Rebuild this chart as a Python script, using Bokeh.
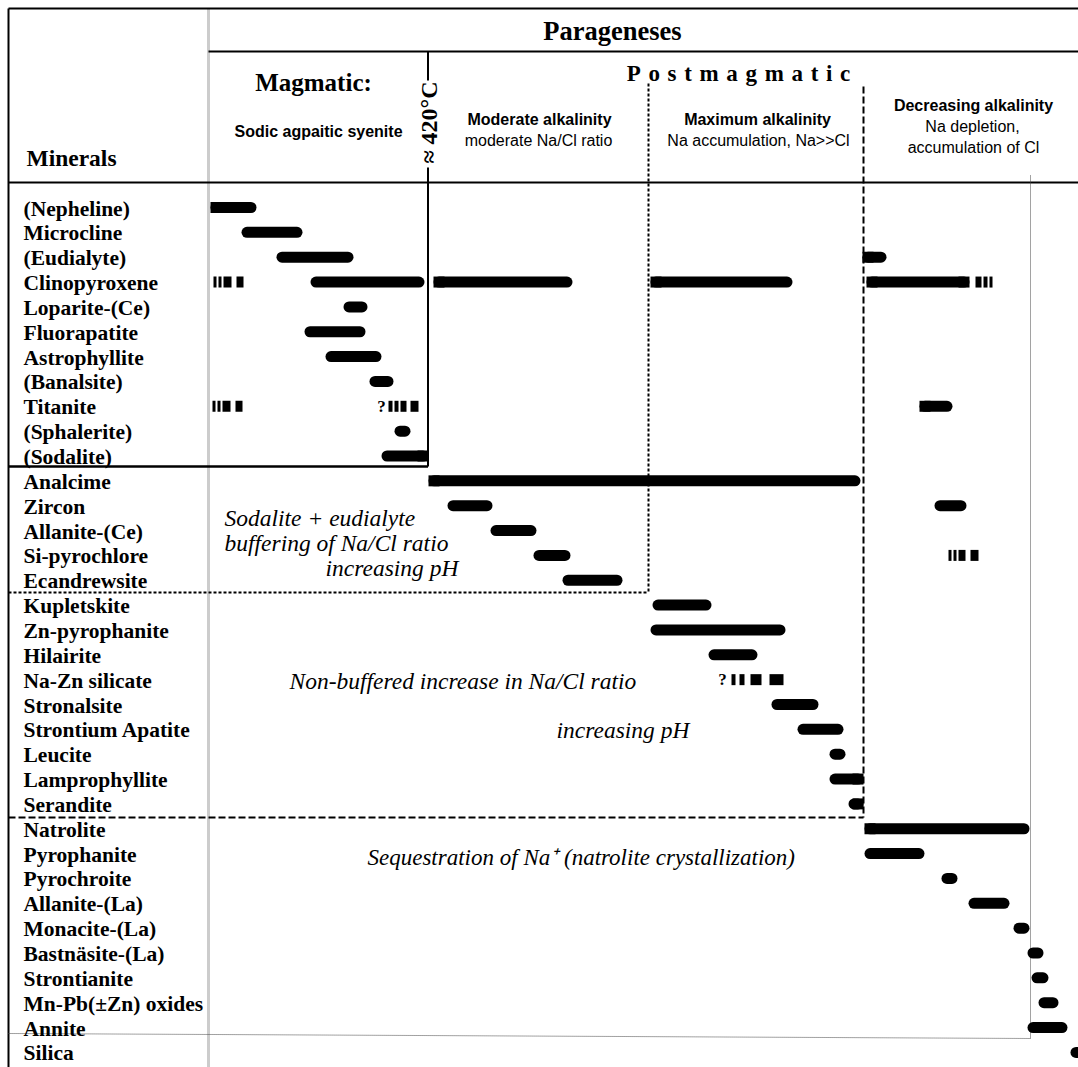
import math
from bokeh.plotting import figure
from bokeh.models import Range1d, ColumnDataSource
from bokeh.core.properties import value
from bokeh.embed import file_html
from bokeh.resources import INLINE

# ---------------- data ----------------
minerals = ["(Nepheline)", "Microcline", "(Eudialyte)", "Clinopyroxene", "Loparite-(Ce)",
            "Fluorapatite", "Astrophyllite", "(Banalsite)", "Titanite", "(Sphalerite)",
            "(Sodalite)", "Analcime", "Zircon", "Allanite-(Ce)", "Si-pyrochlore",
            "Ecandrewsite", "Kupletskite", "Zn-pyrophanite", "Hilairite", "Na-Zn silicate",
            "Stronalsite", "Strontium Apatite", "Leucite", "Lamprophyllite", "Serandite",
            "Natrolite", "Pyrophanite", "Pyrochroite", "Allanite-(La)", "Monacite-(La)",
            "Bastnäsite-(La)", "Strontianite", "Mn-Pb(±Zn) oxides", "Annite", "Silica"]

# crystallization intervals on the relative paragenetic sequence axis
bar_mineral = ["(Nepheline)", "Microcline", "(Eudialyte)", "(Eudialyte)",
               "Clinopyroxene", "Clinopyroxene", "Clinopyroxene", "Clinopyroxene",
               "Loparite-(Ce)", "Fluorapatite", "Astrophyllite", "(Banalsite)", "Titanite",
               "(Sphalerite)", "(Sodalite)", "Analcime", "Zircon", "Zircon", "Allanite-(Ce)",
               "Si-pyrochlore", "Ecandrewsite", "Kupletskite", "Zn-pyrophanite", "Hilairite",
               "Stronalsite", "Strontium Apatite", "Leucite", "Lamprophyllite", "Serandite",
               "Natrolite", "Pyrophanite", "Pyrochroite", "Allanite-(La)", "Monacite-(La)",
               "Bastnäsite-(La)", "Strontianite", "Mn-Pb(±Zn) oxides", "Annite", "Silica"]
bar_start = [210, 241, 276, 862, 310, 433, 650, 866, 343, 304, 325, 369, 919, 394, 381, 428,
             447, 934, 490, 533, 562, 652, 650, 708, 771, 797, 829, 829, 848, 864, 864, 941,
             968, 1013, 1027, 1031, 1038, 1027, 1070]
bar_end = [256, 302, 353, 886, 424, 572, 792, 969, 367, 365, 381, 393, 952, 410, 428, 860,
           492, 966, 536, 570, 622, 711, 785, 757, 818, 843, 845, 863, 863, 1029, 924, 957,
           1009, 1029, 1043, 1048, 1058, 1067, 1086]

# uncertain / sporadic occurrence (broken bars)
dash_mineral = ["Clinopyroxene"] * 4 + ["Titanite"] * 4 + ["Titanite"] * 4 + \
               ["Clinopyroxene"] * 3 + ["Si-pyrochlore"] * 4 + ["Na-Zn silicate"] * 4
dash_start = [213, 218, 223, 236, 212, 217, 222, 235, 388, 394, 400, 410,
              975, 983, 989, 948, 953, 958, 970, 731, 739, 750, 769]
dash_end = [216, 221, 231, 243, 215, 220, 230, 242, 392, 398, 406, 418,
            981, 987, 992, 951, 956, 965, 978, 735, 744, 761, 783]

query_mineral = ["Titanite", "Na-Zn silicate"]
query_x = [381, 722]

# bars whose ends are cut square (at a stage boundary) instead of rounded
square_start_idx = [0, 3, 5, 6, 7, 12, 15, 29]
square_end_idx = [7, 14, 27, 28]

# ---------------- figure ----------------
W, H = 1078, 1067
X0, X1 = 0, 1078
Y0, Y1 = 0, 1067
p = figure(width=W, height=H, x_range=Range1d(X0, X1), y_range=Range1d(Y1, Y0),
           output_backend="svg", toolbar_location=None, min_border=0,
           x_axis_location=None, y_axis_location=None)
p.grid.visible = False
p.outline_line_color = None
p.background_fill_color = "white"
p.border_fill_color = "white"

ROW0, STEP = 207, 24.85
row_y = {m: ROW0 + i * STEP for i, m in enumerate(minerals)}
sx = W / (X1 - X0)
sy = H / (Y1 - Y0)
BAR = 11
rx = BAR / 2 / sx
ry = BAR / 2 / sy

SERIF = value("Liberation Serif")
SANS = value("Liberation Sans")

# ---- frame lines ----
def seg(x0, y0, x1, y1, w=2, dash="solid", color="black"):
    p.segment(x0=[x0], y0=[y0], x1=[x1], y1=[y1], line_width=w, line_color=color,
              line_dash=dash)

seg(208, 8, 208, 1067, w=3, color="#cccccc")
seg(8, 8, 1078, 8)
seg(8, 8, 8, 1067)
seg(208, 51, 1078, 51)
seg(8, 182, 1078, 182)
seg(427.5, 51, 427.5, 80)
seg(427.5, 167, 427.5, 466)
seg(8, 466, 427.5, 466, w=2.5)
seg(648, 83, 648, 592, dash="3 2")
seg(8, 592, 648, 592, dash="3 2")
seg(863, 86, 863, 817, dash="7 3")
seg(8, 817, 863, 817, dash="7 3")
seg(1030, 175, 1030, 1038, w=1, dash="1 1", color="#444444")
seg(8, 1033, 1030, 1038, w=1, dash="1 1", color="#444444")

# ---- bars ----
bsrc = ColumnDataSource(dict(
    x0=[s + rx for s in bar_start],
    x1=[e - rx for e in bar_end],
    y=[row_y[m] for m in bar_mineral]))
p.segment(x0="x0", y0="y", x1="x1", y1="y", source=bsrc, line_width=BAR,
          line_color="black", line_cap="round")

sq_l, sq_r, sq_t, sq_b = [], [], [], []
for i in square_start_idx:
    y = row_y[bar_mineral[i]]
    sq_l.append(bar_start[i]); sq_r.append(bar_start[i] + 2 * rx)
    sq_t.append(y - ry); sq_b.append(y + ry)
for i in square_end_idx:
    y = row_y[bar_mineral[i]]
    sq_l.append(bar_end[i] - 2 * rx); sq_r.append(bar_end[i])
    sq_t.append(y - ry); sq_b.append(y + ry)
p.quad(left=sq_l, right=sq_r, top=sq_t, bottom=sq_b, fill_color="black", line_color=None)

dsrc = ColumnDataSource(dict(
    l=dash_start, r=dash_end,
    t=[row_y[m] - ry for m in dash_mineral],
    b=[row_y[m] + ry for m in dash_mineral]))
p.quad(left="l", right="r", top="t", bottom="b", source=dsrc, fill_color="black",
       line_color=None)

p.text(x=query_x, y=[row_y[m] for m in query_mineral], text=["?"] * len(query_x),
       text_font=SERIF, text_font_style="bold", text_font_size="17px",
       text_baseline="middle", text_align="center", text_color="black")

# ---- mineral labels ----
p.text(x=[23] * len(minerals), y=[row_y[m] + 1 for m in minerals], text=minerals,
       text_font=SERIF, text_font_style="bold", text_font_size="21.5px",
       text_baseline="middle", text_align="left", text_color="black")

# ---- header texts ----
def txt(x, y, s, font=SERIF, size="20px", style="bold", align="center", angle=0.0):
    p.text(x=[x], y=[y], text=[s], text_font=font, text_font_style=style,
           text_font_size=size, text_baseline="middle", text_align=align,
           text_color="black", angle=angle)

SP = "\u2004"
txt(612, 30, "Parageneses", size="26.5px")
txt(71, 157, "Minerals", size="23.5px")
txt(313, 82, "Magmatic:", size="25px")
txt(318, 131, "Sodic agpaitic syenite", font=SANS, size="16px")
txt(428, 122, "≈ 420°C", size="24px", angle=math.pi / 2)
txt(738, 73, SP.join("Postmagmatic"), size="23px")
txt(539, 119, "Moderate alkalinity", font=SANS, size="16px")
txt(538, 140, "moderate Na/Cl ratio", font=SANS, size="16px", style="normal")
txt(757, 119, "Maximum alkalinity", font=SANS, size="16px")
txt(758, 140, "Na accumulation, Na>>Cl", font=SANS, size="16px", style="normal")
txt(973, 105, "Decreasing alkalinity", font=SANS, size="16px")
txt(972, 126, "Na depletion,", font=SANS, size="16px", style="normal")
txt(973, 147, "accumulation of Cl", font=SANS, size="16px", style="normal")

# ---- annotations in body ----
IT = "23.5px"
txt(224, 517, "Sodalite + eudialyte", size=IT, style="italic", align="left")
txt(224, 542, "buffering of Na/Cl ratio", size=IT, style="italic", align="left")
txt(325, 567, "increasing pH", size=IT, style="italic", align="left")
txt(289, 680, "Non-buffered increase in Na/Cl ratio", size=IT, style="italic", align="left")
txt(556, 729, "increasing pH", size=IT, style="italic", align="left")
txt(367, 857, "Sequestration of Na\u207a (natrolite crystallization)", size="23px",
    style="italic", align="left")

open("out.html", "w").write(file_html(p, INLINE))
